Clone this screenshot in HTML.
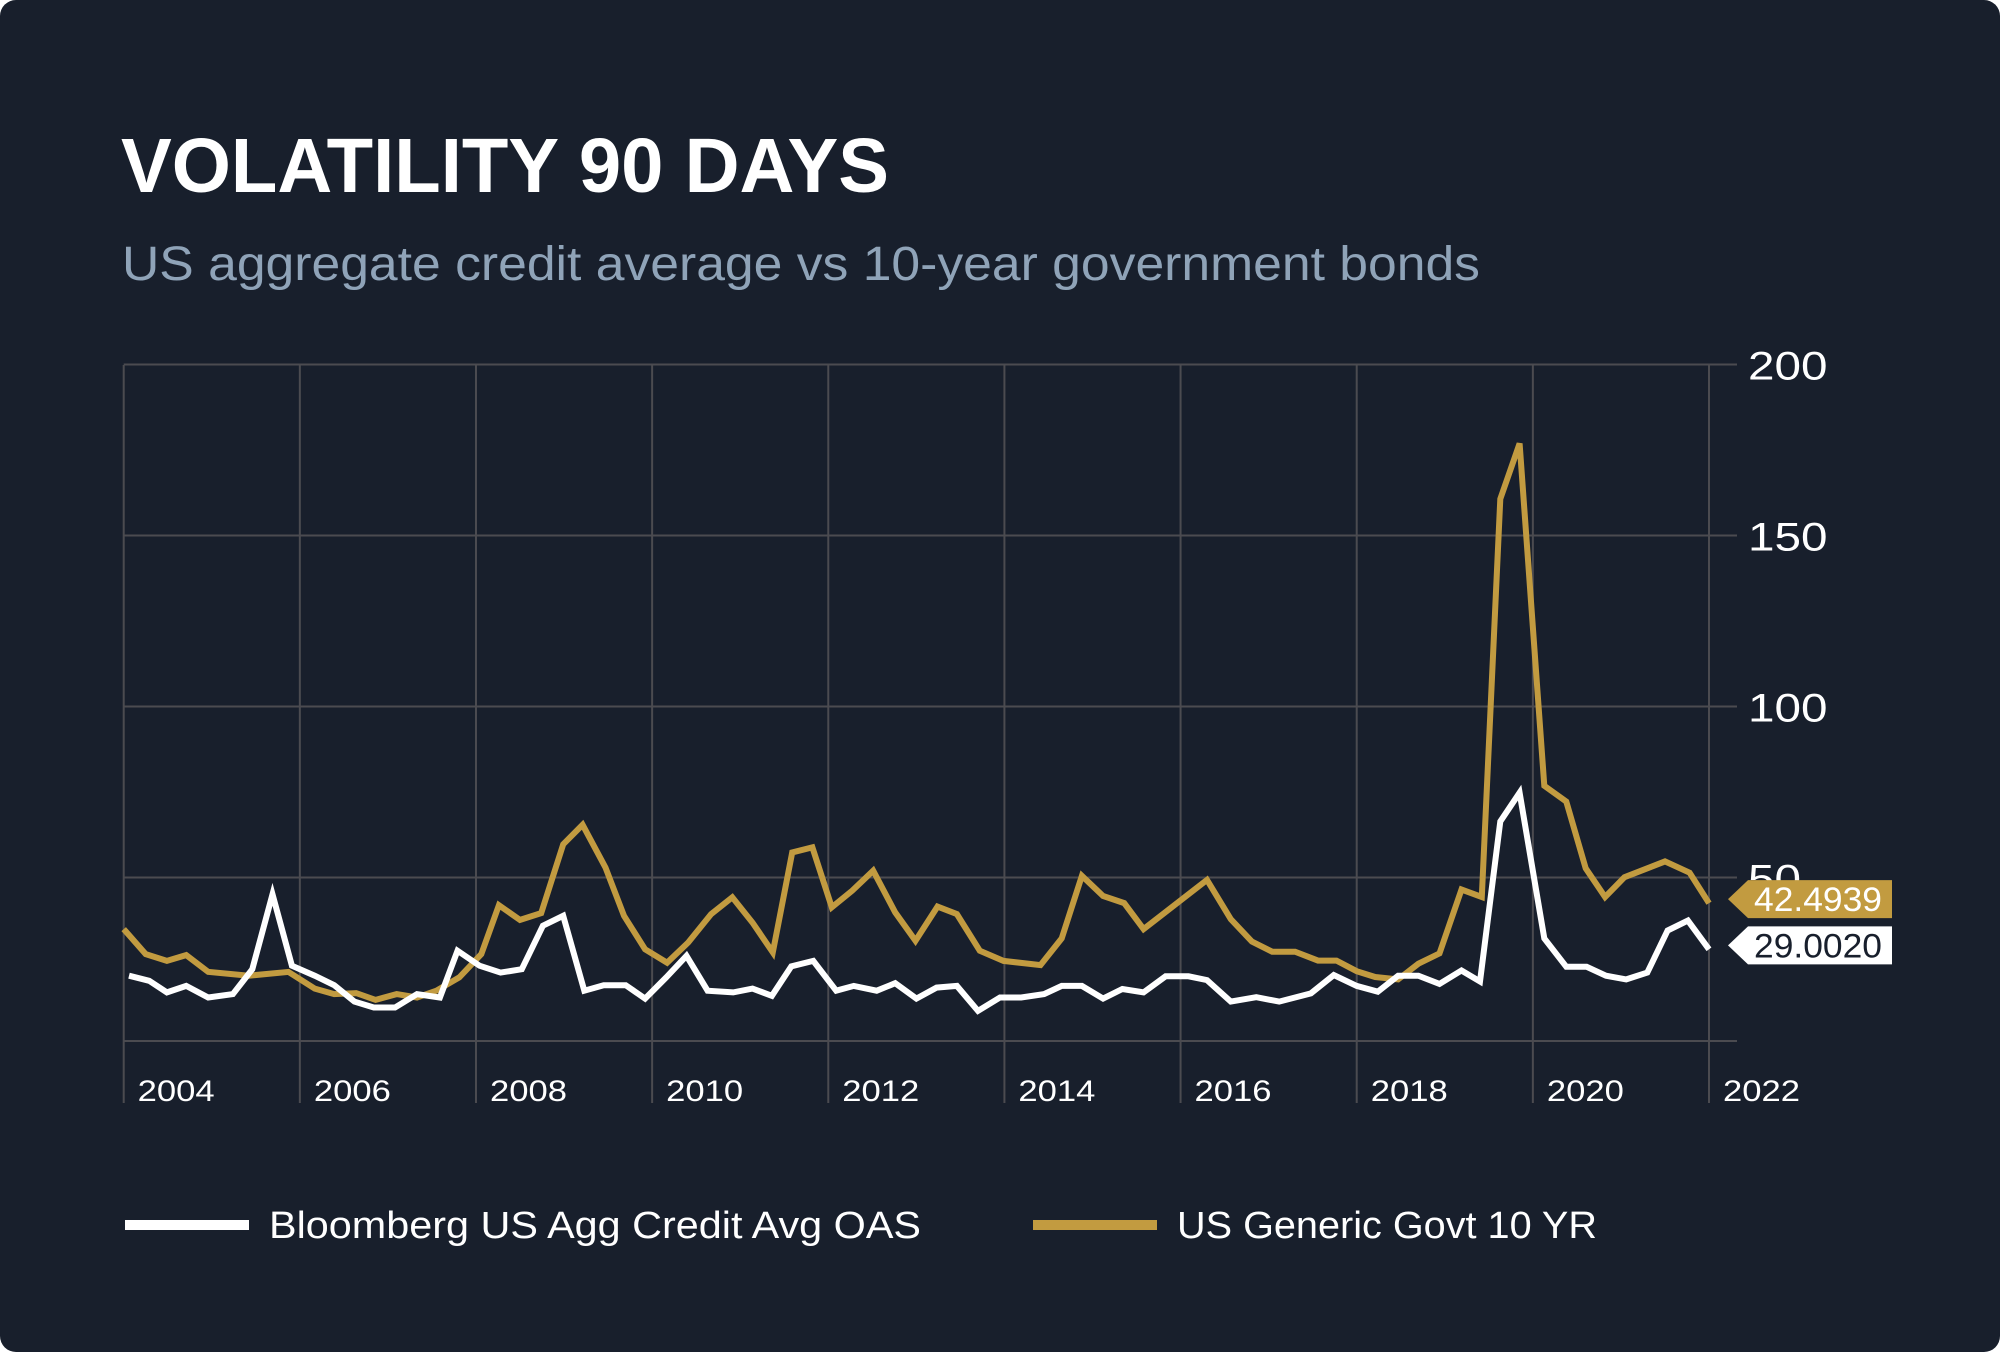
<!DOCTYPE html>
<html><head><meta charset="utf-8"><style>
html,body{margin:0;padding:0;background:#fff;}
svg{display:block;font-family:"Liberation Sans",sans-serif;}
</style></head><body>
<svg id="chart" width="2000" height="1352" viewBox="0 0 2000 1352">
<rect x="0" y="0" width="2000" height="1352" rx="16" fill="#181f2c"/>
<text x="121" y="192" font-size="77" font-weight="bold" fill="#ffffff" textLength="768" lengthAdjust="spacingAndGlyphs">VOLATILITY 90 DAYS</text>
<text x="122" y="280" font-size="48" fill="#8fa3b8" textLength="1358" lengthAdjust="spacingAndGlyphs">US aggregate credit average vs 10-year government bonds</text>
<g id="grid"></g>
<g id="series"></g>
<g id="badges"></g>
<g>
<g>
<rect x="125" y="1220" width="124" height="10" fill="#ffffff"/>
<text x="269" y="1238" font-size="38" fill="#ffffff" textLength="652" lengthAdjust="spacingAndGlyphs">Bloomberg US Agg Credit Avg OAS</text>
</g>
<g>
<rect x="1033" y="1220" width="124" height="10" fill="#c29b40"/>
<text x="1177" y="1238" font-size="38" fill="#ffffff" textLength="420" lengthAdjust="spacingAndGlyphs">US Generic Govt 10 YR</text>
</g>
</g>
</svg>
<script>
const yTicks = [50, 100, 150, 200];
const yearTicks = [2004, 2006, 2008, 2010, 2012, 2014, 2016, 2018, 2020, 2022];
const yearLabels = ["2004","2006","2008","2010","2012","2014","2016","2018","2020","2022"];
const govtDates = [2004.00,2004.25,2004.49,2004.71,2004.96,2005.42,2005.87,2006.17,2006.39,2006.64,2006.86,2007.10,2007.33,2007.55,2007.81,2008.06,2008.26,2008.50,2008.74,2008.99,2009.21,2009.47,2009.68,2009.92,2010.17,2010.41,2010.67,2010.91,2011.14,2011.37,2011.59,2011.82,2012.04,2012.27,2012.51,2012.76,2012.99,2013.24,2013.46,2013.72,2013.99,2014.41,2014.65,2014.88,2015.12,2015.36,2015.58,2016.30,2016.57,2016.81,2017.04,2017.30,2017.56,2017.77,2018.00,2018.21,2018.47,2018.70,2018.94,2019.19,2019.42,2019.63,2019.85,2020.13,2020.38,2020.60,2020.82,2021.04,2021.50,2021.78,2022.00];
const govtValues = [34.9,27.6,25.6,27.3,22.4,21.3,22.4,17.5,15.9,16.2,14.2,15.9,14.9,16.9,20.8,27.6,41.9,37.6,39.6,59.7,65.4,52.9,38.8,29.0,25.1,31.0,39.3,44.2,36.8,28.1,57.3,58.8,41.3,46.1,52.0,39.8,31.5,41.5,39.3,28.6,25.6,24.4,32.2,50.5,44.6,42.5,34.9,49.3,37.8,31.3,28.3,28.3,25.7,25.7,22.6,20.9,20.2,24.8,27.8,46.5,44.3,160.7,176.9,76.8,72.2,52.7,44.3,50.1,54.7,51.4,42.4939];
const creditDates = [2004.06,2004.29,2004.49,2004.71,2004.96,2005.24,2005.46,2005.69,2005.91,2006.17,2006.39,2006.62,2006.84,2007.08,2007.33,2007.59,2007.79,2008.04,2008.28,2008.52,2008.76,2008.99,2009.23,2009.45,2009.70,2009.92,2010.16,2010.39,2010.63,2010.92,2011.14,2011.36,2011.58,2011.83,2012.09,2012.29,2012.55,2012.76,2013.00,2013.23,2013.46,2013.70,2013.95,2014.19,2014.45,2014.65,2014.88,2015.12,2015.34,2015.58,2015.83,2016.09,2016.30,2016.57,2016.86,2017.12,2017.48,2017.74,2018.00,2018.24,2018.47,2018.70,2018.94,2019.19,2019.40,2019.63,2019.85,2020.13,2020.38,2020.61,2020.83,2021.06,2021.30,2021.53,2021.76,2022.00];
const creditValues = [21.3,19.8,16.4,18.3,14.9,15.9,23.2,45.1,24.2,21.3,18.5,13.7,12.0,12.0,15.9,14.9,28.6,24.2,22.2,23.2,35.9,38.8,16.9,18.5,18.5,14.6,20.8,27.1,16.9,16.4,17.5,15.4,24.0,25.6,16.9,18.3,16.9,19.1,14.6,17.8,18.3,11.0,14.9,14.9,15.9,18.3,18.3,14.6,17.4,16.4,21.1,21.1,20.0,13.7,15.0,13.7,16.1,21.5,18.3,16.6,21.3,21.3,18.9,22.8,19.6,66.4,74.8,32.2,23.9,23.9,21.3,20.2,22.2,34.5,37.4,29.0020];
const badgeLabels = ["42.4939", "29.0020"];

const NS = "http://www.w3.org/2000/svg";
const X0 = 123.7, X1 = 1709, Y0 = 1048.5, YPX = 3.42;
function xScale(yr){ return X0 + (yr - 2004) * (X1 - X0) / 18; }
function yScale(v){ return Y0 - v * YPX; }
function mk(tag, attrs, parent){ const e = document.createElementNS(NS, tag); for (const k in attrs) e.setAttribute(k, attrs[k]); parent.appendChild(e); return e; }

const grid = document.getElementById('grid');
const GC = "#4b4b50";
yTicks.forEach((t) => {
  const l = mk('line', {x1: X0, x2: 1737, y1: yScale(t), y2: yScale(t), stroke: GC, 'stroke-width': 2}, grid);
  
  
  const s = String(t);
  const tx = mk('text', {x: 1748, y: yScale(t) + 15, 'font-size': 40, fill: '#ffffff', textLength: s.length * 26.5, lengthAdjust: 'spacingAndGlyphs'}, grid);
  tx.textContent = s;
  
  
});
const base = mk('line', {x1: X0, x2: 1737, y1: 1041, y2: 1041, stroke: GC, 'stroke-width': 2}, grid);


yearTicks.forEach((yr, i) => {
  const l = mk('line', {x1: xScale(yr), x2: xScale(yr), y1: 365, y2: 1103, stroke: GC, 'stroke-width': 2}, grid);
  
  
  const tx = mk('text', {x: xScale(yr) + 14, y: 1101, 'font-size': 30, fill: '#ffffff', textLength: 77, lengthAdjust: 'spacingAndGlyphs'}, grid);
  tx.textContent = yearLabels[i];
  
  
});

const series = document.getElementById('series');
function pts(d, v){ return d.map((yr, i) => xScale(yr).toFixed(1) + ',' + yScale(v[i]).toFixed(1)).join(' '); }
const gl = mk('polyline', {points: pts(govtDates, govtValues), fill: 'none', stroke: '#c29b40', 'stroke-width': 6, 'stroke-linejoin': 'miter'}, series);


const cl = mk('polyline', {points: pts(creditDates, creditValues), fill: 'none', stroke: '#ffffff', 'stroke-width': 6, 'stroke-linejoin': 'miter'}, series);



const badges = document.getElementById('badges');
function badge(v, label, fill, tc, name){
  const cy = yScale(v) - 4;
  const g = mk('g', {}, badges);
  
  
  const x = 1728, w = 164, h = 38;
  mk('polygon', {points: `${x},${cy} ${x+20},${cy-h/2} ${x+w},${cy-h/2} ${x+w},${cy+h/2} ${x+20},${cy+h/2}`, fill: fill}, g);
  const t = mk('text', {x: x + 26, y: cy + 12, 'font-size': 34, fill: tc, textLength: 128, lengthAdjust: 'spacingAndGlyphs'}, g);
  t.textContent = label;
}
badge(govtValues[govtValues.length-1], badgeLabels[0], '#c29b40', '#ffffff', 'govt-last-value-badge');
badge(creditValues[creditValues.length-1], badgeLabels[1], '#ffffff', '#181f2c', 'credit-last-value-badge');
</script>
</body></html>
